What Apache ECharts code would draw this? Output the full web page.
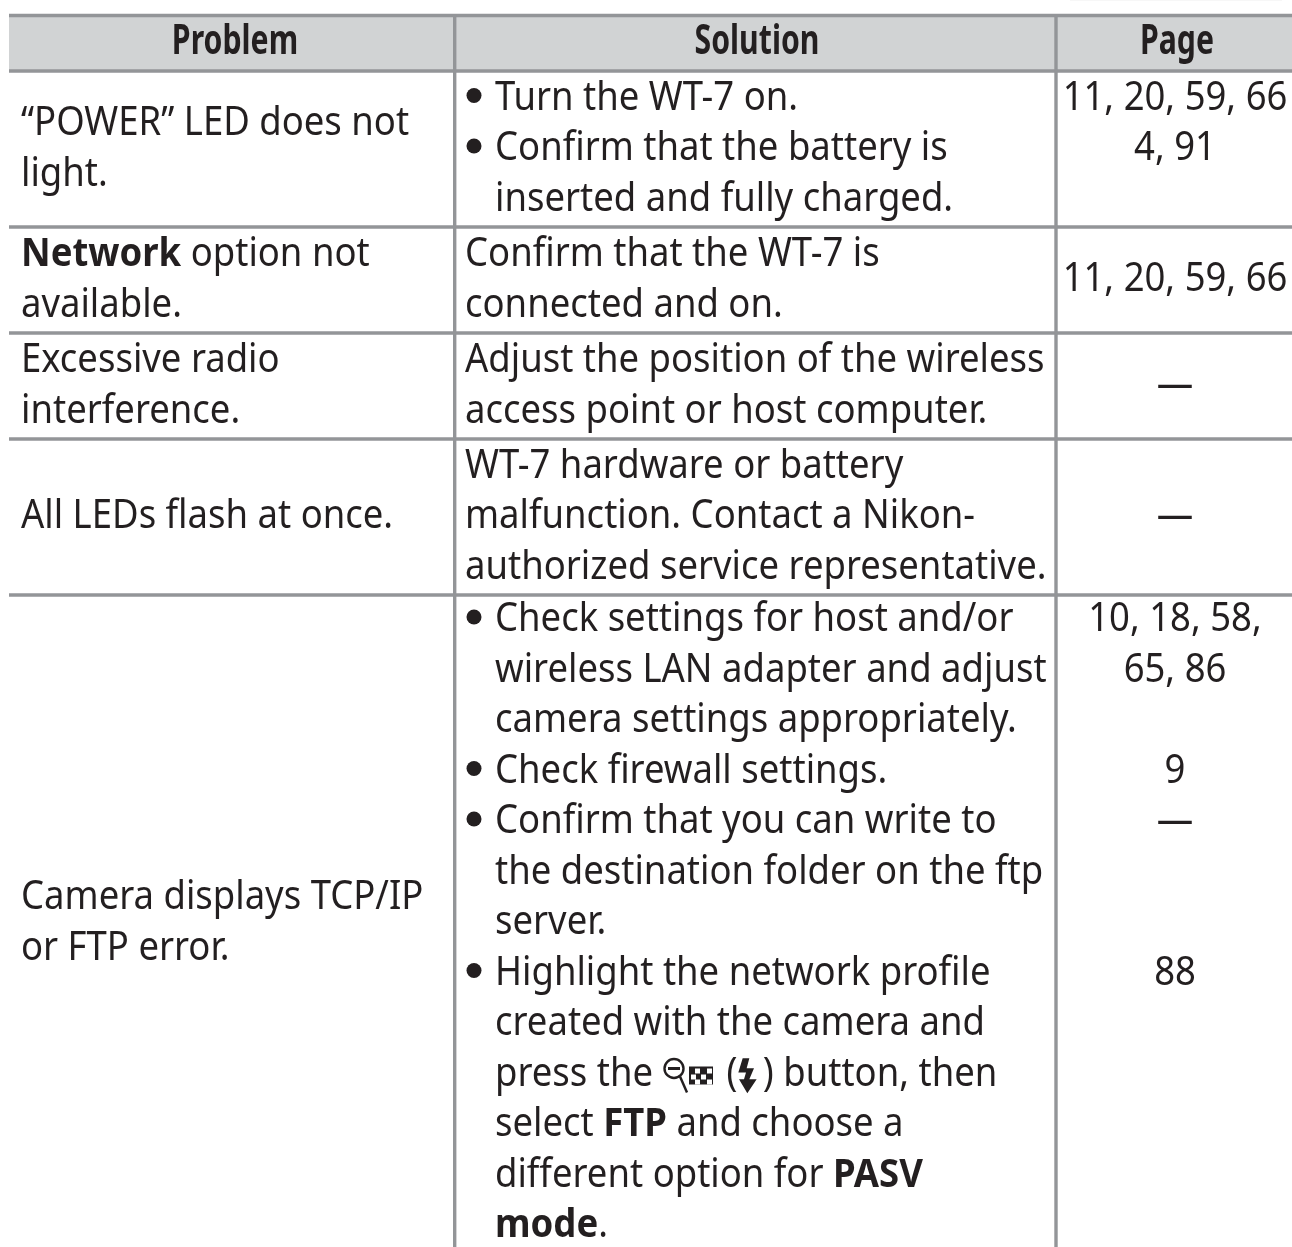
<!DOCTYPE html>
<html lang="en">
<head>
    <meta charset="UTF-8">
    <title>WT-7 troubleshooting</title>
    <style>
        body { margin: 0; padding: 0; background: #fff; }
        #chart { width: 1292px; height: 1247px; }
    </style>
</head>
<body>
    <div id="chart"></div>
    <script src="https://cdn.jsdelivr.net/npm/echarts@6/dist/echarts.min.js"></script>
    <script>
        var headers = ['Problem', 'Solution', 'Page'];

        var problemText = [
            ['“POWER” LED does not', 'light.'],
            ['{b|Network} option not', 'available.'],
            ['Excessive radio', 'interference.'],
            ['All LEDs flash at once.'],
            ['Camera displays TCP/IP', 'or FTP error.']
        ];

        var solutionText = [
            ['• Turn the WT-7 on.', '• Confirm that the battery is', '  inserted and fully charged.'],
            ['Confirm that the WT-7 is', 'connected and on.'],
            ['Adjust the position of the wireless', 'access point or host computer.'],
            ['WT-7 hardware or battery', 'malfunction. Contact a Nikon-', 'authorized service representative.'],
            ['• Check settings for host and/or', '  wireless LAN adapter and adjust', '  camera settings appropriately.',
             '• Check firewall settings.', '• Confirm that you can write to', '  the destination folder on the ftp', '  server.',
             '• Highlight the network profile', '  created with the camera and', '  press the {icon| }({flash| }) button, then',
             '  select {b|FTP} and choose a', '  different option for {b|PASV}', '  {b|mode}.']
        ];

        var pageText = [
            ['11, 20, 59, 66', '4, 91', ''],
            ['11, 20, 59, 66'],
            ['—'],
            ['—'],
            ['10, 18, 58,', '65, 86', '', '9', '—', '', '', '88', '', '', '', '', '']
        ];

        var W = 1292, H = 1247;
        var FONT = '"Noto Sans"';
        var FONT_SIZE = 40, SCALE_X = 0.912;
        var TEXT_COLOR = '#231f20';
        var RULE_COLOR = '#939598';
        var RULE_W = 3.4;
        var LINE_H = 50.5;
        var HEADER_TOP = 15.5, HEADER_BOTTOM = 71;
        var LEFT = 9, COL2 = 454.7, COL3 = 1056;
        var richStyles = {
            b: { fontFamily: 'Noto Sans', fontWeight: 'bold', fontSize: FONT_SIZE, fill: TEXT_COLOR },
            icon: { width: 70, fontSize: FONT_SIZE, fontFamily: 'Noto Sans' },
            flash: { width: 28, fontSize: FONT_SIZE, fontFamily: 'Noto Sans' }
        };

        // row edges come from how many lines each row holds
        var rowEdges = [HEADER_BOTTOM];
        var cellLines = [];
        problemText.forEach(function (p, r) {
            var n = Math.max(p.length, solutionText[r].length, pageText[r].length);
            var top = rowEdges[r];
            var h = n * 50 + 6;
            rowEdges.push(top + h);
            function addCol(lines, col) {
                var y0 = top + (h - lines.length * LINE_H) / 2;
                lines.forEach(function (t, i) {
                    if (t) cellLines.push([col, y0 + (i + 0.5) * LINE_H, t]);
                });
            }
            addCol(p, 0);
            addCol(solutionText[r], 1);
            addCol(pageText[r], 2);
        });

        function rectBetween(api, x0, y0, x1, y1, fill) {
            var a = api.coord([x0, y0]);
            var b = api.coord([x1, y1]);
            return { type: 'rect', shape: { x: a[0], y: a[1], width: b[0] - a[0], height: b[1] - a[1] }, style: { fill: fill } };
        }

        function renderFrame(params, api) {
            var half = RULE_W / 2;
            var kids = [rectBetween(api, LEFT, HEADER_TOP, W, HEADER_BOTTOM, '#d1d3d4')];
            // faint strip along the top edge of the page
            kids.push(rectBetween(api, 1070, 0, 1282, 1, '#f7f7f7'));
            kids.push(rectBetween(api, LEFT, HEADER_TOP - half, W, HEADER_TOP + half, RULE_COLOR));
            rowEdges.forEach(function (y, i) {
                if (i < rowEdges.length - 1) kids.push(rectBetween(api, LEFT, y - half, W, y + half, RULE_COLOR));
            });
            kids.push(rectBetween(api, COL2 - half, HEADER_TOP, COL2 + half, H, RULE_COLOR));
            kids.push(rectBetween(api, COL3 - half, HEADER_TOP, COL3 + half, H, RULE_COLOR));
            // header labels
            [235, 757, 1177].forEach(function (x, i) {
                var c = api.coord([x, (HEADER_TOP + HEADER_BOTTOM) / 2 - 1]);
                kids.push({
                    type: 'text', x: c[0], y: c[1], scaleX: 0.72,
                    style: { text: headers[i], fill: TEXT_COLOR, font: 'bold 42px "Noto Sans"', align: 'center', verticalAlign: 'middle' }
                });
            });
            return { type: 'group', children: kids };
        }

        function renderCell(params, api) {
            var col = api.value(0);
            var c = api.coord([0, api.value(1)]);
            var text = cellLines[params.dataIndex][2];
            var kids = [];
            var x = col === 0 ? 21 : 465;
            var align = 'left';
            if (col === 2) { x = (COL3 + W) / 2 + 1; align = 'center'; }
            if (col === 1) {
                if (text.indexOf('• ') === 0) {
                    kids.push({ type: 'circle', shape: { cx: 474, cy: c[1] - 3, r: 7.5 }, style: { fill: TEXT_COLOR } });
                    text = text.slice(2);
                    x = 495;
                } else if (text.indexOf('  ') === 0) {
                    text = text.slice(2);
                    x = 495;
                }
            }
            kids.push({
                type: 'text', x: x, y: c[1], scaleX: SCALE_X,
                style: { text: text, rich: richStyles, fill: TEXT_COLOR, font: FONT_SIZE + 'px ' + FONT, align: align, verticalAlign: 'middle' }
            });
            if (text.indexOf('{icon|') >= 0) {
                // zoom-out button symbol and flash symbol
                var iy = c[1] - 6;
                kids.push({ type: 'circle', shape: { cx: 674, cy: iy, r: 9.5 }, style: { fill: 'none', stroke: TEXT_COLOR, lineWidth: 2.4 } });
                kids.push({ type: 'rect', shape: { x: 668, y: iy - 1.5, width: 12, height: 3 }, style: { fill: TEXT_COLOR } });
                kids.push({ type: 'line', shape: { x1: 680, y1: iy + 8, x2: 687, y2: iy + 24 }, style: { stroke: TEXT_COLOR, lineWidth: 2.4 } });
                kids.push({ type: 'rect', shape: { x: 689, y: iy - 2, width: 24, height: 18 }, style: { fill: TEXT_COLOR } });
                [[695, 0], [707, 0], [691, 6], [701, 6], [695, 11], [707, 11]].forEach(function (s) {
                    kids.push({ type: 'rect', shape: { x: s[0], y: iy + s[1], width: 5, height: 5 }, style: { fill: '#fff' } });
                });
                var pts = [[308, 32], [328, 32], [320, 62], [342, 62], [328, 95], [350, 95], [322, 137], [297, 95], [312, 95], [318, 75], [295, 75]];
                kids.push({
                    type: 'polygon',
                    shape: { points: pts.map(function (p) { return [640 + p[0] / 3, iy - 21 + p[1] / 3]; }) },
                    style: { fill: TEXT_COLOR }
                });
            }
            return { type: 'group', children: kids };
        }

        var chart = echarts.init(document.getElementById('chart'), null, { renderer: 'canvas' });
        chart.setOption({
            animation: false,
            grid: { left: 0, right: 0, top: 0, bottom: 0 },
            xAxis: { type: 'value', min: 0, max: W, show: false },
            yAxis: { type: 'value', min: 0, max: H, inverse: true, show: false },
            series: [
                { type: 'custom', name: 'frame', renderItem: renderFrame, data: [[0, 0]], silent: true, clip: false },
                {
                    type: 'custom', name: 'cells', renderItem: renderCell, silent: true, clip: false,
                    encode: { x: 0, y: 1 },
                    data: cellLines.map(function (l) { return [l[0], l[1]]; })
                }
            ]
        });
    </script>
</body>
</html>
